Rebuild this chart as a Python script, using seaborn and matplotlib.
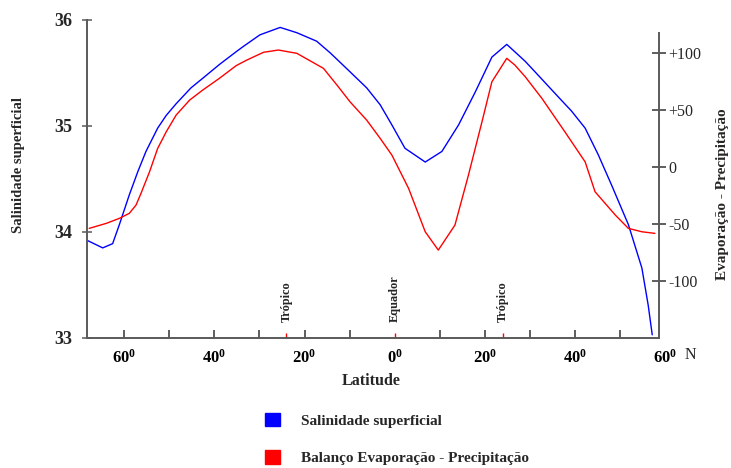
import matplotlib
matplotlib.use("Agg")
import matplotlib.pyplot as plt
import matplotlib.transforms as mtransforms
from matplotlib.patches import Patch
import seaborn as sns

# Surface salinity (psu) by latitude (negative = south)
lat_sal = [-68.2, -64.8, -62.6, -61.1, -58.9, -57.0, -55.2, -52.6, -50.7, -48.5,
           -45.2, -42.6, -38.9, -35.2, -33.6, -29.9, -25.4, -21.7, -17.3, -14.3,
           -10.6, -6.2, -3.2, -0.6, 2.3, 6.8, 10.5, 14.2, 17.9, 21.6,
           24.9, 26.7, 29.0, 31.2, 36.0, 39.3, 42.3, 45.2, 48.2, 51.9,
           54.9, 56.3, 57.2]
salinity = [33.92, 33.85, 33.89, 34.07, 34.35, 34.57, 34.76, 34.98, 35.10, 35.21,
            35.36, 35.45, 35.58, 35.70, 35.75, 35.86, 35.93, 35.88, 35.80, 35.69,
            35.54, 35.36, 35.20, 35.01, 34.79, 34.66, 34.76, 35.01, 35.32, 35.65,
            35.77, 35.70, 35.61, 35.51, 35.29, 35.14, 34.98, 34.73, 34.44, 34.07,
            33.66, 33.31, 33.03]

# Evaporation minus precipitation balance by latitude
lat_ep = [-67.8, -64.0, -61.1, -58.9, -57.4, -56.3, -54.4, -52.6, -50.7, -48.5,
          -45.5, -42.6, -38.9, -35.2, -32.8, -29.1, -25.8, -21.7, -15.8, -12.8,
          -9.9, -6.2, -3.2, -0.6, 3.1, 6.8, 9.7, 13.4, 16.4, 19.4,
          21.6, 24.9, 26.7, 29.0, 32.7, 37.8, 42.3, 44.5, 49.0, 51.9,
          54.9, 57.8]
evap_precip = [-53.8, -49.4, -45.0, -40.6, -33.3, -23.0, -4.0, 16.5, 31.1, 45.8,
               59.0, 67.8, 78.1, 89.2, 94.2, 101.0, 103.0, 100.1, 86.9, 72.2,
               57.5, 41.4, 25.3, 10.6, -18.6, -56.8, -72.9, -50.9, -6.9, 39.9,
               75.1, 95.7, 89.8, 79.5, 60.5, 31.1, 4.7, -21.6, -42.1, -53.8,
               -56.8, -58.2]

lat_ticks = [-60, -50, -40, -30, -20, -10, 10, 20, 30, 40, 50]
lat_labels = [-60, -40, -20, 0, 20, 40, 60]
markers = [(-24, "Trópico"), (0, "Equador"), (24, "Trópico")]
sal_ticks = [33, 34, 35, 36]
ep_ticks = [-100, -50, 0, 50, 100]
ep_tick_labels = ["-100", "-50", "0", "+50", "+100"]

sns.set_style("white")
plt.rcParams["font.family"] = ["Liberation Serif", "DejaVu Serif"]
plt.rcParams["mathtext.fontset"] = "custom"
plt.rcParams["mathtext.rm"] = "Liberation Serif:bold"
plt.rcParams["mathtext.bf"] = "Liberation Serif:bold"
plt.rcParams["mathtext.it"] = "Liberation Serif:bold:italic"

W, H = 731, 468
fig = plt.figure(figsize=(W / 100, H / 100), dpi=100)
x0, x1, ytop, ybot = 86.5, 659, 20, 338
ax = fig.add_axes([x0 / W, 1 - ybot / H, (x1 - x0) / W, (ybot - ytop) / H])
ax2 = ax.twinx()

axis_col = "#5a5a5a"

sns.lineplot(x=lat_sal, y=salinity, ax=ax, color="#0000ff", lw=1.0,
             sort=False, estimator=None)
sns.lineplot(x=lat_ep, y=evap_precip, ax=ax2, color="#ff0000", lw=1.0,
             sort=False, estimator=None)

ax.set_xlim(-68.4, 58.7)
ax.set_ylim(33, 36)
ax2.set_ylim(-150.2, 129.4)

for s in ["top", "right"]:
    ax.spines[s].set_visible(False)
for s in ["top", "left", "bottom"]:
    ax2.spines[s].set_visible(False)
for s in ["left", "bottom"]:
    ax.spines[s].set_color(axis_col)
    ax.spines[s].set_linewidth(1.4)
ax2.spines["right"].set_color(axis_col)
ax2.spines["right"].set_linewidth(1.4)
ax2.spines["right"].set_bounds(-150.2, 118)

# bottom axis: plain ticks, labels drawn as text with degree superscripts
ax.set_xticks(lat_ticks)
ax.set_xticklabels([])
ax.set_xticks([m[0] for m in markers], minor=True)
ax.tick_params(axis="x", which="major", direction="in", length=6, width=1.1,
               color="#333333", bottom=True)
ax.tick_params(axis="x", which="minor", direction="in", length=3.6, width=1.0,
               color="#ff0000", bottom=True)
ax.set_xlabel("")

trans = mtransforms.blended_transform_factory(ax.transData, ax.transAxes)
for lat in lat_labels:
    ax.text(lat, -(363 - ybot) / (ybot - ytop), rf"$\mathrm{{{abs(lat)}}}^{{\mathrm{{0}}}}$",
            transform=trans, ha="center", va="baseline", fontsize=12,
            clip_on=False, color="black")
ax.text((690 - x0) / (x1 - x0), -(359 - ybot) / (ybot - ytop), "N",
        transform=ax.transAxes, ha="center", va="baseline", fontsize=11.5)

for lat, name in markers:
    ax.text(lat, (ybot - 322) / (ybot - ytop), name, transform=trans,
            rotation=90, ha="center", va="bottom", fontsize=8.8,
            fontweight="bold")

ax.text((371 - x0) / (x1 - x0), -(385 - ybot) / (ybot - ytop), "Latitude",
        transform=ax.transAxes, ha="center", va="baseline", fontsize=11.5,
        fontweight="bold")

# left axis: salinity
ax.set_yticks(sal_ticks)
ax.set_yticklabels([str(t) for t in sal_ticks], fontsize=13, fontweight="bold")
ax.tick_params(axis="y", direction="inout", length=7, width=1.1,
               color=axis_col, pad=7, left=True)
ax.set_ylabel("Salinidade superficial", fontsize=10.5, fontweight="bold")
ax.yaxis.set_label_coords((19 - x0) / (x1 - x0), (ybot - 165) / (ybot - ytop))
ax.yaxis.label.set_verticalalignment("center")

# right axis: evaporation - precipitation
ax2.set_yticks(ep_ticks)
ax2.set_yticklabels(ep_tick_labels, fontsize=11.5)
ax2.tick_params(axis="y", direction="inout", length=9.4, width=1.1,
                color="#333333", pad=2, right=True)
ax2.set_ylabel("Evaporação - Precipitação", fontsize=11, fontweight="bold",
               rotation=90)
ax2.yaxis.set_label_coords((723 - x0) / (x1 - x0), (ybot - 194) / (ybot - ytop))
ax2.yaxis.label.set_verticalalignment("center")

handles = [Patch(facecolor="#0000ff", edgecolor="#0000ff"),
           Patch(facecolor="#ff0000", edgecolor="#ff0000")]
fig.legend(handles, ["Salinidade superficial", "Balanço Evaporação - Precipitação"],
           loc="upper left", bbox_to_anchor=(251 / W, 1 - 399 / H),
           frameon=False, handlelength=1.0, handleheight=1.0,
           handletextpad=1.37, labelspacing=1.45,
           prop={"family": "Liberation Serif", "weight": "bold", "size": 11})

fig.savefig("out.png", dpi=100)
